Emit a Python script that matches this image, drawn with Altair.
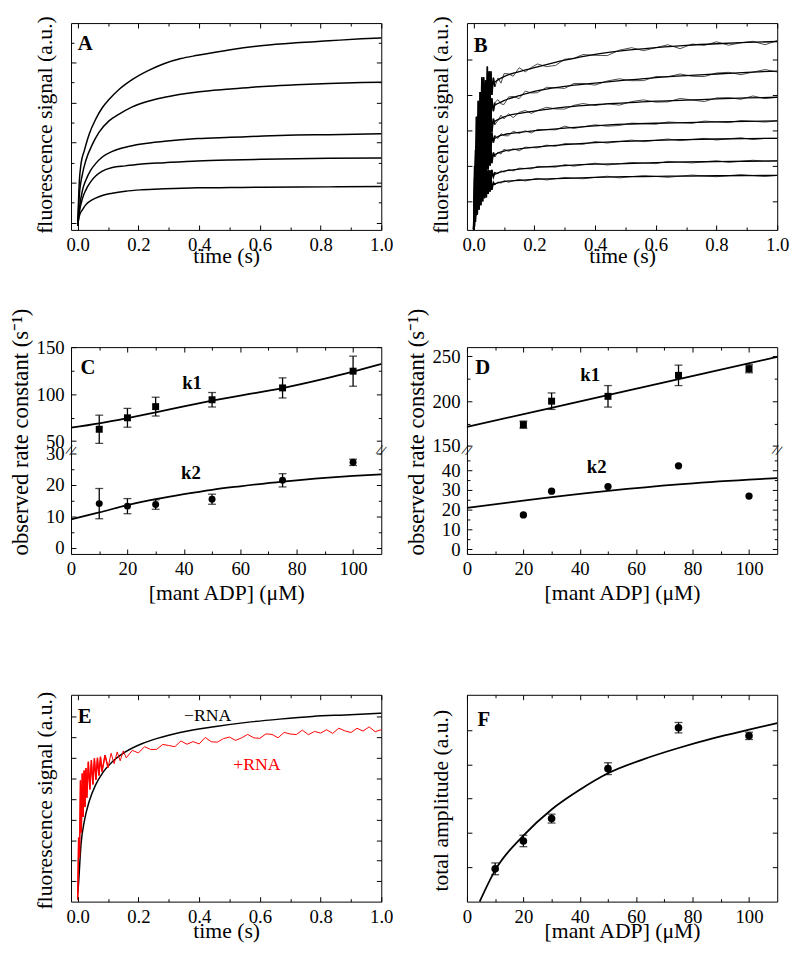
import json
import altair as alt
import pandas as pd

FONT = "Liberation Serif"
W, H = 315, 210
LAB = 19
LEFT, BOT, RIGHT = 63, 54, 14

# ---------------- Panel A (5 kinetic traces, a.u. = height above baseline) -------------
A_T1 = [0, 0.005, 0.011, 0.022, 0.038, 0.059, 0.081, 0.103, 0.135, 0.178, 0.232, 0.286, 0.34, 0.395, 0.503, 0.611, 0.719, 0.827, 0.935, 1.0]
A_V1 = [4, 47.3, 67.3, 80.7, 97.3, 112.3, 124, 132.3, 142.3, 152.3, 161.7, 169, 174, 177.3, 183, 187.3, 190, 192, 194, 195]
A_T2 = [0, 0.005, 0.016, 0.027, 0.049, 0.07, 0.103, 0.135, 0.178, 0.232, 0.286, 0.395, 0.503, 0.611, 0.719, 0.827, 0.935, 1.0]
A_V2 = [4, 34, 57.3, 70.7, 87.3, 99, 110.7, 117.3, 124.7, 130.7, 134.7, 140, 143, 145.7, 147.3, 148.7, 149.7, 150]
A_T3 = [0, 0.005, 0.016, 0.027, 0.043, 0.059, 0.081, 0.114, 0.157, 0.211, 0.286, 0.395, 0.503, 0.611, 0.719, 0.827, 1.0]
A_V3 = [4, 20.7, 40.7, 50.7, 60.7, 67.3, 74, 79.7, 84, 87.3, 90, 92.7, 94, 95.3, 96.3, 96.7, 97.7]
A_T45 = [0, 0.005, 0.016, 0.027, 0.043, 0.059, 0.081, 0.114, 0.157, 0.211, 0.286, 0.395, 0.503, 0.611, 0.827, 1.0]
A_V4 = [4, 17.3, 32.3, 40.7, 49, 54.7, 59.7, 63.3, 65, 67, 68.3, 70, 71, 71.7, 72.7, 73]
A_V5 = [4, 14, 20.7, 25.7, 29.7, 32.3, 35, 37.3, 39.3, 40.7, 41.7, 42.7, 43, 43.3, 43.7, 44]

# ---------------- Panel B (7 noisy traces + fits) -------------
B_TF = [0, 0.005, 0.01, 0.02, 0.03, 0.045, 0.06, 0.08, 0.1, 0.15, 0.2, 0.3, 0.4, 0.5, 0.6, 0.7, 0.8, 0.9, 1.0]
B_F1 = [0.7, 64, 94, 117.3, 130.7, 140.7, 147.3, 152.3, 155.7, 160.7, 164.7, 172.3, 178.3, 182.3, 185, 187.3, 189, 190.3, 191.3]
B_F2 = [0.7, 54, 77.3, 97.3, 109, 119, 124.7, 128.3, 131.3, 136.3, 140.7, 145.7, 149, 152, 154.7, 156.7, 158.3, 160, 161.3]
B_F3 = [0.7, 44, 64, 82.3, 93.3, 102.3, 108, 112, 114.7, 118.3, 120.7, 124.7, 127.3, 129, 130.7, 131.7, 133, 134, 134.7]
B_F4 = [0.7, 34, 50.7, 67.3, 77.3, 85.7, 90.7, 94.7, 96.7, 99, 100.7, 103.3, 105.7, 107.3, 108.3, 109, 109.7, 110.3, 110.7]
B_F5 = [0.7, 27.3, 40.7, 54.7, 63.3, 70.7, 74.7, 78, 80, 82.3, 84, 86.7, 88.7, 90, 91, 91.7, 92.3, 92.7, 93]
B_F6 = [0.7, 17.3, 27.3, 39, 45.7, 51.3, 55, 58, 59.7, 61.7, 63.3, 65.3, 66.7, 67.3, 68.3, 69, 69.3, 69.7, 70]
B_F7 = [0.7, 14, 22.3, 32.3, 38, 43, 45.7, 47.7, 49, 50.3, 51.3, 52.3, 53.3, 54, 54.3, 54.7, 55, 55.2, 55.3]

B_TD = [0, 0.003, 0.006, 0.009, 0.012, 0.015, 0.018, 0.021, 0.024, 0.027, 0.03, 0.033, 0.036, 0.039, 0.042,
        0.045, 0.048, 0.051, 0.054, 0.057, 0.06, 0.065, 0.07, 0.08, 0.09, 0.1, 0.115, 0.13, 0.15, 0.17, 0.19,
        0.21, 0.24, 0.27, 0.3, 0.33, 0.36, 0.4, 0.44, 0.48, 0.52, 0.56, 0.6, 0.64, 0.68, 0.72, 0.76, 0.8, 0.84,
        0.88, 0.92, 0.96, 1.0]
B_D1 = [0.7, 65, 45, 115, 83, 131, 83, 140, 103, 155, 113, 155, 110, 152, 119, 166, 127, 161, 133, 161, 137,
        154.5, 145.5, 154.3, 149, 158.7, 158.5, 156, 164.7, 160.5, 165, 168.5, 165.8, 167, 173.3, 174.2, 178, 177.3,
        177, 182.5, 185, 182, 185, 188, 184, 188.7, 187.4, 191, 187.5, 190, 191.5, 188, 192.3]
B_D2 = [0.7, 25, 81, 51, 106, 70, 118, 76, 122, 81, 127, 96, 135, 97, 137, 105, 136, 109.5, 137, 114, 133.7,
        120.5, 129.3, 132.3, 128, 127.3, 135, 135.5, 133.3, 141, 139, 139.3, 144.8, 144.3, 143.7, 148.7, 148.7,
        147, 151.2, 153.4, 151.5, 151.6, 155.7, 155.5, 158.3, 156, 155.7, 159.3, 160, 157.6, 160.2, 162.8, 160.3]
B_D3 = [0.7, 53, 35, 85, 48, 92, 57, 109, 69, 110, 69.3, 112.5, 82.5, 121.3, 85, 116.3, 85.5, 119.8, 96, 119, 99,
        113, 107, 111, 116.5, 112.7, 118, 114, 119.3, 121.3, 118.3, 121.2, 124.5, 122.8, 122.7, 126.5, 128.3,
        126.3, 128, 126.7, 130.3, 132, 129.7, 130, 133.5, 131.9, 130.3, 134, 134.3, 132.6, 136, 133.3, 134.7]
B_D4 = [0.7, 14, 57, 33, 75, 46, 82.5, 48, 86, 56.5, 97.3, 65.3, 97, 70.5, 99.2, 73.7, 99.7, 77.7, 99.7, 80.7, 98.7,
        88.7, 95.7, 92.7, 97.7, 95.7, 95.5, 100.2, 98, 100.7, 98.4, 102, 101.8, 101.6, 105.3, 103, 104.7, 106.7,
        105.3, 106, 108.4, 107.9, 107.3, 109.6, 108.9, 108.2, 110.5, 109.7, 108.9, 111.1, 110.3, 109.5, 110.7]
B_D5 = [0.7, 34, 20, 55, 29, 63.5, 36.5, 69, 42, 73, 49.3, 80, 56.6, 81, 57.4, 81.7, 61.5, 82.3, 65.1, 81.9, 67.7,
        78.5, 74.3, 79, 77, 82, 79.7, 82.4, 80.3, 84, 83.7, 83.3, 86.1, 84.9, 87.7, 87.3, 86.9, 89.7, 88.2, 89.7,
        91.2, 89.6, 91, 92.3, 90.6, 91.8, 93, 91.3, 92.5, 93.6, 91.7, 92.9, 93]
B_D6 = [0.7, 4, 31.5, 15, 43, 22.5, 48.5, 27.5, 52, 32, 56.7, 37, 59.3, 40.4, 60.4, 43.3, 61.1, 44.8, 60.6, 48.3, 61,
        53.8, 58.5, 57, 60, 58.7, 61.3, 59.9, 62.7, 62.3, 62, 64.5, 64.1, 63.7, 66.3, 64.7, 66.1, 67.7, 65.9, 67.2,
        68.5, 67.9, 67.3, 69.6, 68.8, 68, 69.2, 70.3, 68.5, 69.6, 70.7, 69.9, 70]
B_D7 = [0.7, 20, 8, 31.5, 15.5, 38, 20.5, 42, 25, 45.7, 29, 49.1, 32.1, 49, 33, 51, 36.6, 51.2, 38.8, 51.3, 40.7,
        48.2, 45.7, 48.7, 47.4, 50, 48.4, 49.8, 51.3, 49.7, 51.1, 52.4, 50.7, 52, 53.3, 52.6, 51.9, 53.3, 54.5,
        52.8, 54.1, 55.2, 54.3, 53.4, 54.6, 55.7, 54.8, 54, 55.1, 56.2, 55.2, 54.3, 55.3]

# ---------------- Panel C -------------
C_X = [10, 20, 30, 50, 75, 100]
C_K1 = [62.6, 74.8, 86.7, 94, 106.6, 124.4]
C_K1E = [15, 10, 10, 7.7, 10.7, 16]
C_K2 = [14, 13.2, 13.7, 15.4, 21.4, 27.1]
C_K2E = [4.8, 2.4, 1.5, 1.6, 2.1, 1]
C_FX = [0, 10, 20, 30, 40, 50, 60, 75, 90, 100, 110]
C_F1 = [64.4, 69, 74.5, 80.5, 87, 93, 98.5, 106.5, 116.5, 124, 132]
C_F2 = [9, 11.2, 13.5, 15.4, 17, 18.4, 19.5, 21, 22.2, 22.8, 23.3]

# ---------------- Panel D -------------
D_X = [20, 30, 50, 75, 100]
D_K1 = [173.8, 200, 205.4, 228.8, 236.2]
D_K1E = [4, 9.2, 12, 11.4, 4.5]
D_K2 = [17.4, 29.4, 31.7, 42.2, 26.9]
D_F1X = [0, 55, 110]
D_F1 = [171.3, 210.3, 249.3]
D_F2X = [0, 20, 50, 75, 100, 110]
D_F2 = [20.9, 24.6, 29.5, 32.8, 35.2, 36]

# ---------------- Panel E -------------
E_BT = [0, 0.002, 0.011, 0.022, 0.038, 0.059, 0.081, 0.114, 0.157, 0.211, 0.265, 0.341, 0.449, 0.557, 0.665, 0.773, 0.881, 1.0]
E_BV = [8, 15.3, 58.6, 82, 102, 118.6, 130.3, 142, 152, 160.3, 166, 172, 177.6, 182, 185.3, 188, 189.6, 191.3]
E_RT = [0, 0.003, 0.006, 0.009, 0.012, 0.015, 0.018, 0.021, 0.024, 0.027, 0.03, 0.035, 0.04, 0.045, 0.05, 0.055,
        0.06, 0.065, 0.07, 0.075, 0.08, 0.09, 0.1, 0.11, 0.12, 0.13, 0.14, 0.15, 0.16,
        0.18, 0.2, 0.22, 0.24, 0.26, 0.28, 0.3, 0.32, 0.34, 0.36, 0.38, 0.4, 0.42, 0.44, 0.46, 0.48, 0.5,
        0.52, 0.54, 0.56, 0.58, 0.6, 0.62, 0.64, 0.66, 0.68, 0.7, 0.72, 0.74, 0.76, 0.78, 0.8, 0.82, 0.84,
        0.86, 0.88, 0.9, 0.92, 0.94, 0.96, 0.98, 1.0]
E_RV = [2, 65, 45, 123, 70, 130, 86, 133, 96, 135.5, 105.5, 142, 114, 143.5, 119, 145.5, 123.7, 146, 128, 147, 132,
        148.7, 136.2, 150.6, 140, 152, 143, 153, 146,
        153.6, 151, 157.3, 154.5, 154.6, 159.6, 158.5, 157.3, 163.1, 159.8, 162.5, 160.1, 166.7, 162.3, 161.9,
        165.5, 167.1, 163.7, 166.3, 169.8, 166.3, 165.8, 170.3, 169.8, 166.3, 171.8, 170.2, 169.6, 174.1, 169.5,
        172.8, 171.1, 174.5, 170.8, 176.1, 173.4, 171.7, 176, 173.2, 177.4, 172.5, 174.6]

# ---------------- Panel F -------------
F_X = [10, 20, 30, 50, 75, 100]
F_Y = [33.3, 61.6, 84.3, 135, 176.6, 168.3]
F_E = [6, 5.8, 4.5, 6, 5.3, 3.7]
F_FX = [4.5, 10, 20, 30, 40, 50, 62.5, 75, 87.5, 100, 110]
F_FY = [0, 32, 67, 93.6, 113.6, 130.3, 144.5, 156, 166, 174.6, 181.3]

# ---------------- ticks -------------
T_MAJ = [0, 0.2, 0.4, 0.6, 0.8, 1.0]
T_MIN = [0.1, 0.3, 0.5, 0.7, 0.9]
C_MAJ = [0, 20, 40, 60, 80, 100]
C_MIN = [10, 30, 50, 70, 90]
A_YMAJ = [7.3, 48, 88.7, 129.3, 170]
A_YMIN = [27.7, 68.3, 109, 149.7, 190.3]
B_YMAJ = [28.7, 64.7, 100.7, 136.7, 172.7]
C_YMAJ = [0, 10, 20, 30, 50, 100, 150]
C_YMIN = [5, 15, 25, 75, 125]
D_YMAJ = [0, 10, 20, 30, 40, 150, 200, 250]
D_YMIN = [5, 15, 25, 35, 45, 175, 225]
E_YMAJ = [20.6, 41.6, 62.5, 83.5, 104.4, 125.4, 146.3, 167.3, 188.2]
F_YMAJ = [35, 69.8, 104.6, 139.4, 174.2]

# ---------------- scales -------------
xT = alt.Scale(domain=[-0.022, 1.0], nice=False, zero=False)
yP = alt.Scale(domain=[0, 210], nice=False, zero=False)
xM = alt.Scale(domain=[0, 110], nice=False, zero=False)
yC = alt.Scale(domain=[-1.97, 31, 40.5, 150], range=[210, 104.5, 104.5, 0], nice=False, zero=False)
yD = alt.Scale(domain=[-2.3, 50.2, 145.6, 260.3], range=[210, 104.4, 104.4, 0], nice=False, zero=False)


def cond(major):
    test = " || ".join("abs(datum.value - (%s)) < 1e-6" % json.dumps(m) for m in major)
    return {"condition": {"test": test, "value": 5}, "value": 3}


def frame_layers(xsc, ysc, x0, y0, xlab, xfmt, xmaj, xminr, ylab, ymaj, yminr,
                 xtitle, xty, xts, ytitle, ytx, yty, yta, yts, top_ext):
    df = pd.DataFrame({"fx": [x0], "fy": [y0]})
    base = alt.Chart(df).mark_point(opacity=0, size=1)
    common = dict(domain=False, grid=False)
    lx = alt.Axis(orient="bottom", values=xlab, format=xfmt, ticks=False, tickSize=0,
                  labelFont=FONT, labelFontSize=LAB, labelColor="black", labelPadding=6,
                  labelOverlap=False, labelFlush=False,
                  title=xtitle, titleFont=FONT, titleFontSize=xts, titleFontWeight="normal",
                  titleColor="black", titleX=W / 2, titleY=xty, titleAlign="center", titleBaseline="top",
                  minExtent=BOT, maxExtent=BOT, **common)
    ly_kw = dict(orient="left", ticks=False, tickSize=0, labelFont=FONT, labelFontSize=LAB,
                 labelColor="black", labelPadding=7, labelOverlap=False, labelFlush=False,
                 title=ytitle, titleFont=FONT, titleFontSize=yts, titleFontWeight="normal",
                 titleColor="black", titleX=ytx, titleY=yty, titleAngle=270, titleAlign=yta,
                 titleBaseline="bottom", minExtent=LEFT, maxExtent=LEFT, **common)
    if ylab:
        ly_kw["values"] = ylab
    else:
        ly_kw["labels"] = False
    l0 = base.encode(x=alt.X("fx:Q", scale=xsc, axis=lx),
                     y=alt.Y("fy:Q", scale=ysc, axis=alt.Axis(**ly_kw)))
    tk = dict(labels=False, ticks=True, tickColor="black", tickWidth=1, title=None, zindex=1, **common)
    l1 = base.encode(
        x=alt.X("fx:Q", scale=xsc, axis=alt.Axis(orient="top", offset=-H, values=xmaj + xminr,
                                                 tickSize=cond(xmaj), minExtent=H + top_ext,
                                                 maxExtent=H + top_ext, **tk)),
        y=alt.Y("fy:Q", scale=ysc, axis=alt.Axis(orient="right", offset=-W, values=ymaj + yminr,
                                                 tickSize=cond(ymaj), minExtent=W + RIGHT,
                                                 maxExtent=W + RIGHT, **tk)))
    l2 = base.encode(
        x=alt.X("fx:Q", scale=xsc, axis=alt.Axis(orient="bottom", offset=-H, values=xmaj + xminr,
                                                 tickSize=cond(xmaj), minExtent=0, maxExtent=0, **tk)),
        y=alt.Y("fy:Q", scale=ysc, axis=alt.Axis(orient="left", offset=-W, values=ymaj + yminr,
                                                 tickSize=cond(ymaj), minExtent=0, maxExtent=0, **tk)))
    return [l0, l1, l2]


def xy(xf, yf, xsc, ysc):
    return dict(x=alt.X(xf, scale=xsc, axis=None), y=alt.Y(yf, scale=ysc, axis=None))


def long_df(series):
    rows = []
    for name, ts, vs in series:
        for t, v in zip(ts, vs):
            rows.append({"t": t, "v": v, "s": name})
    return pd.DataFrame(rows)


def text_layer(xsc, ysc, xs, ys, texts, size, weight="bold", color="black", align="left", angle=0):
    df = pd.DataFrame({"x": xs, "y": ys, "s": texts})
    return alt.Chart(df).mark_text(align=align, baseline="alphabetic", font=FONT, fontSize=size,
                                   fontWeight=weight, color=color, angle=angle).encode(
        **xy("x:Q", "y:Q", xsc, ysc), text="s:N")


def break_layer(xsc, ysc, yb):
    df = pd.DataFrame({"x": [0, 110], "y": [yb, yb], "s": ["//", "//"]})
    return alt.Chart(df).mark_text(align="center", baseline="middle", font=FONT, fontSize=15,
                                   color="black", angle=20).encode(**xy("x:Q", "y:Q", xsc, ysc), text="s:N")


def errbars(xsc, ysc, xs, ys, es, shape, size):
    df = pd.DataFrame({"x": xs, "y": ys, "e": es})
    df["lo"] = df["y"] - df["e"]
    df["hi"] = df["y"] + df["e"]
    base = alt.Chart(df)
    rule = base.mark_rule(color="black", strokeWidth=1.3).encode(
        x=alt.X("x:Q", scale=xsc, axis=None), y=alt.Y("lo:Q", scale=ysc, axis=None), y2="hi:Q")
    cap1 = base.mark_tick(orient="horizontal", size=8, thickness=1.3, color="black").encode(**xy("x:Q", "lo:Q", xsc, ysc))
    cap2 = base.mark_tick(orient="horizontal", size=8, thickness=1.3, color="black").encode(**xy("x:Q", "hi:Q", xsc, ysc))
    pts = base.mark_point(shape=shape, filled=True, size=size, color="black", opacity=1).encode(**xy("x:Q", "y:Q", xsc, ysc))
    return [rule, cap1, cap2, pts]


def panel(layers):
    return alt.layer(*layers).resolve_axis(x="independent", y="independent").properties(width=W, height=H)


TIME = "time (s)"
FLU = "fluorescence signal (a.u.)"
CONC = "[mant ADP] (\u03bcM)"

# ---- A ----
dfA = long_df([("1", A_T1, A_V1), ("2", A_T2, A_V2), ("3", A_T3, A_V3), ("4", A_T45, A_V4), ("5", A_T45, A_V5)])
pA = panel(frame_layers(xT, yP, 0, 0, T_MAJ, ".1f", T_MAJ, T_MIN, None, A_YMAJ, A_YMIN,
                        TIME, 16, 22, FLU, -15, 103, "center", 22, 12) + [
    alt.Chart(dfA).mark_line(color="black", strokeWidth=1.5, interpolate="monotone").encode(
        **xy("t:Q", "v:Q", xT, yP), detail="s:N"),
    text_layer(xT, yP, [0.0], [182.3], ["A"], 21)])

# ---- B ----
dfBD = long_df([(str(i), B_TD, d) for i, d in enumerate([B_D1, B_D2, B_D3, B_D4, B_D5, B_D6, B_D7])])
dfBF = long_df([(str(i), B_TF, d) for i, d in enumerate([B_F1, B_F2, B_F3, B_F4, B_F5, B_F6, B_F7])])
pB = panel(frame_layers(xT, yP, 0, 0, T_MAJ, ".1f", T_MAJ, T_MIN, None, B_YMAJ, [],
                        TIME, 16, 22, FLU, -15, 103, "center", 22, 12) + [
    alt.Chart(dfBD).mark_line(color="#333333", strokeWidth=0.9).encode(**xy("t:Q", "v:Q", xT, yP), detail="s:N"),
    alt.Chart(dfBD).transform_filter("datum.t <= 0.075").mark_line(color="black", strokeWidth=1.6).encode(
        **xy("t:Q", "v:Q", xT, yP), detail="s:N"),
    alt.Chart(dfBF).mark_line(color="black", strokeWidth=1.3, interpolate="monotone").encode(
        **xy("t:Q", "v:Q", xT, yP), detail="s:N"),
    text_layer(xT, yP, [0.0], [180.7], ["B"], 21)])

# ---- C ----
RATE = "observed rate constant (s\u207b\u00b9)"
dfCF = long_df([("k1", C_FX, C_F1), ("k2", C_FX, C_F2)])
pC = panel(frame_layers(xM, yC, 0, 0, C_MAJ, "d", C_MAJ, C_MIN, C_YMAJ, C_YMAJ, C_YMIN,
                        CONC, 29, 22, RATE, -39, 211, "left", 23, 40) + [
    alt.Chart(dfCF).mark_line(color="black", strokeWidth=1.8, interpolate="monotone").encode(
        **xy("t:Q", "v:Q", xM, yC), detail="s:N")]
    + errbars(xM, yC, C_X, C_K1, C_K1E, "square", 50)
    + errbars(xM, yC, C_X, C_K2, C_K2E, "circle", 50)
    + [text_layer(xM, yC, [3.4], [121], ["C"], 21),
       text_layer(xM, yC, [39.4, 39], [105.2, 21.9], ["k1", "k2"], 19),
       break_layer(xM, yC, 35)])

# ---- D ----
dfDF = long_df([("k1", D_F1X, D_F1), ("k2", D_F2X, D_F2)])
pD = panel(frame_layers(xM, yD, 0, 0, C_MAJ, "d", C_MAJ, C_MIN, D_YMAJ, D_YMAJ, D_YMIN,
                        CONC, 29, 22, RATE, -39, 211, "left", 23, 40) + [
    alt.Chart(dfDF).mark_line(color="black", strokeWidth=1.8, interpolate="monotone").encode(
        **xy("t:Q", "v:Q", xM, yD), detail="s:N")]
    + errbars(xM, yD, D_X, D_K1, D_K1E, "square", 50)
    + [alt.Chart(pd.DataFrame({"x": D_X, "y": D_K2})).mark_point(shape="circle", filled=True, size=55,
                                                                  color="black", opacity=1).encode(
        **xy("x:Q", "y:Q", xM, yD)),
       text_layer(xM, yD, [2.9], [229.9], ["D"], 21),
       text_layer(xM, yD, [40.2, 42.5], [222.5, 38.7], ["k1", "k2"], 19),
       break_layer(xM, yD, 100)])

# ---- E ----
dfER = long_df([("r", E_RT, E_RV)])
pE = panel(frame_layers(xT, yP, 0, 0, T_MAJ, ".1f", T_MAJ, T_MIN, None, E_YMAJ, [],
                        TIME, 19, 22, FLU, -15, 107, "center", 22, 64) + [
    alt.Chart(long_df([("b", E_BT, E_BV)])).mark_line(color="black", strokeWidth=1.5, interpolate="monotone").encode(
        **xy("t:Q", "v:Q", xT, yP)),
    alt.Chart(dfER).mark_line(color="#ff0000", strokeWidth=1).encode(**xy("t:Q", "v:Q", xT, yP)),
    alt.Chart(dfER).transform_filter("datum.t <= 0.1").mark_line(color="#ff0000", strokeWidth=1.5).encode(
        **xy("t:Q", "v:Q", xT, yP)),
    text_layer(xT, yP, [0.0], [181.3], ["E"], 21),
    text_layer(xT, yP, [0.35], [183.3], ["\u2212RNA"], 18, weight="normal"),
    text_layer(xT, yP, [0.512], [134], ["+RNA"], 18, weight="normal", color="#ff0000")])

# ---- F ----
pF = panel(frame_layers(xM, yP, 0, 0, C_MAJ, "d", C_MAJ, C_MIN, None, F_YMAJ, [],
                        CONC, 19, 22, "total amplitude (a.u.)", -15, 107, "center", 22, 64) + [
    alt.Chart(long_df([("f", F_FX, F_FY)])).mark_line(color="black", strokeWidth=1.8, interpolate="monotone").encode(
        **xy("t:Q", "v:Q", xM, yP))]
    + errbars(xM, yP, F_X, F_Y, F_E, "circle", 60)
    + [text_layer(xM, yP, [3.7], [178.3], ["F"], 21)])

chart = alt.concat(pA, pB, pC, pD, pE, pF, columns=2, spacing={"row": 23, "column": 8},
                   align="each", bounds="full").properties(
    padding={"left": 0, "top": -5, "right": 0, "bottom": 0}
).configure_view(stroke="black", strokeWidth=1)

chart.save("out.html", embed_options={"renderer": "svg", "actions": False})
